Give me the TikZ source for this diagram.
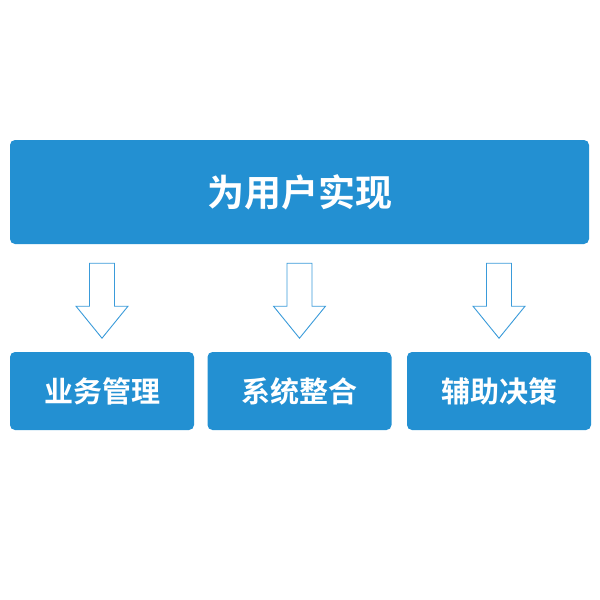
\documentclass[tikz,border=0pt]{standalone}
\usepackage{fontspec}
\newfontfamily\cjkbold{Noto Sans CJK SC Bold}
\definecolor{BoxBlue}{HTML}{2390D2}
\definecolor{LineBlue}{HTML}{3A9BDA}

\begin{document}
\begin{tikzpicture}[
  x=1pt, y=-1pt,
  topbox/.style={fill=BoxBlue, rounded corners=5pt, minimum width=579pt, minimum height=104pt,
    inner sep=0pt, text=white, font=\cjkbold\fontsize{37}{40}\selectfont},
  subbox/.style={fill=BoxBlue, rounded corners=5pt, minimum width=184pt, minimum height=78pt,
    inner sep=0pt, text=white, font=\cjkbold\fontsize{29}{32}\selectfont},
  downarrow/.pic={
    \draw[draw=LineBlue, line width=0.9pt, fill=white]
      (-12.5,0) -- (12.5,0) -- (12.5,43) -- (26,43) -- (0,75)
      -- (-26,43) -- (-12.5,43) -- cycle;
  }
]
\useasboundingbox (0,0) rectangle (600,600);

\node[topbox] (goal) at (299.5,192) {为用户实现};

\node[subbox] (biz) at (102,391) {业务管理};
\node[subbox] (sys) at (299.5,391) {系统整合};
\node[subbox] (dec) at (499,391) {辅助决策};

% hollow arrows between the rows
\foreach \n in {biz,sys,dec}
  \path (goal.south -| \n) ++(0,19) pic {downarrow};
\end{tikzpicture}
\end{document}
